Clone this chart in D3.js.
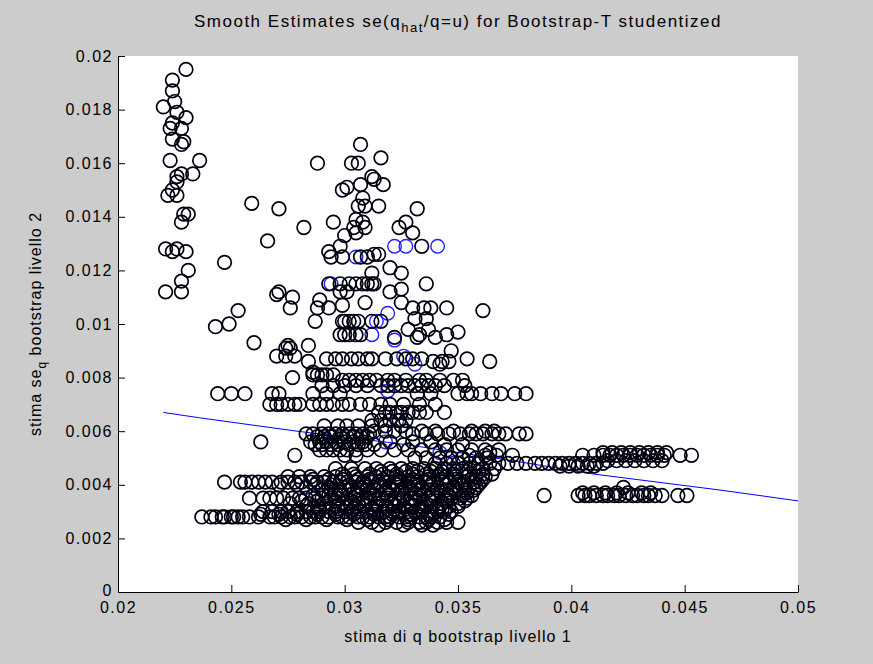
<!DOCTYPE html>
<html>
<head>
<meta charset="utf-8">
<script src="https://cdn.jsdelivr.net/npm/d3@7"></script>
<style>
  body { margin: 0; background: #cccccc; }
  svg { display: block; }
  text { font-family: "Liberation Sans", Arial, Helvetica, sans-serif; fill: #000; }
</style>
</head>
<body>
<div id="chart"></div>
<script>
// tick values
const xTicks = [0.02, 0.025, 0.03, 0.035, 0.04, 0.045, 0.05];
const yTicks = [0, 0.002, 0.004, 0.006, 0.008, 0.01, 0.012, 0.014, 0.016, 0.018, 0.02];

// smoothed estimate (blue line)
const smoothQ = [0.022, 0.0236, 0.0279, 0.0327, 0.0374, 0.041, 0.0466, 0.05];
const smoothSe = [0.0067, 0.0065, 0.0060, 0.0055, 0.0049, 0.0044, 0.0038, 0.0034];

// top-left cluster [q, se]
const leftCluster = [
  [0.0230,0.0195],[0.0224,0.0191],[0.0224,0.0187],[0.0225,0.0183],[0.0220,0.0181],[0.0226,0.0179],
  [0.0230,0.0177],[0.0224,0.0175],[0.0223,0.0173],[0.0228,0.0173],[0.0224,0.0169],[0.0229,0.0168],
  [0.0228,0.0167],[0.0223,0.0161],[0.0236,0.0161],[0.0228,0.0156],[0.0233,0.0156],[0.0226,0.0155],
  [0.0226,0.0153],[0.0224,0.0150],[0.0222,0.0148],[0.0226,0.0148],[0.0229,0.0141],[0.0231,0.0141],
  [0.0228,0.0138],[0.0221,0.0128],[0.0226,0.0128],[0.0224,0.0127],[0.0230,0.0127],[0.0231,0.0120],
  [0.0228,0.0116],[0.0221,0.0112],[0.0228,0.0112]
];

// isolated points
const scattered = [
  [0.0259,0.0145],[0.0271,0.0143],[0.0282,0.0136],[0.0288,0.0160],[0.0266,0.0131],[0.0247,0.0123],
  [0.0253,0.0105],[0.0249,0.0100],[0.0243,0.0099],[0.0260,0.0093],[0.0271,0.0112],[0.0270,0.0111],
  [0.0277,0.0110],[0.0276,0.0106],[0.0275,0.0092],[0.0270,0.0088],[0.0274,0.0088],[0.0278,0.0088],
  [0.0284,0.0092],[0.0284,0.0086],[0.0277,0.0080],[0.0286,0.0082],[0.0263,0.0056],[0.0244,0.0074],
  [0.0250,0.0074],[0.0256,0.0074],[0.0278,0.0051],[0.0388,0.0036],[0.0368,0.0059],[0.0377,0.0059],
  [0.0364,0.0052],[0.0423,0.0039],[0.0344,0.0067]
];

// central column
const centralColumn = [
  [0.0307,0.0167],[0.0303,0.0160],[0.0306,0.0160],[0.0316,0.0162],[0.0312,0.0155],[0.0313,0.0154],
  [0.0317,0.0152],[0.0307,0.0152],[0.0301,0.0151],[0.0299,0.0150],[0.0308,0.0147],[0.0306,0.0144],
  [0.0309,0.0144],[0.0315,0.0144],[0.0332,0.0143],[0.0295,0.0138],[0.0305,0.0139],[0.0308,0.0138],
  [0.0304,0.0136],[0.0309,0.0136],[0.0324,0.0136],[0.0327,0.0138],[0.0330,0.0134],[0.0300,0.0133],
  [0.0305,0.0134],[0.0298,0.0129],[0.0334,0.0129],[0.0293,0.0127],[0.0294,0.0125],[0.0299,0.0125],
  [0.0307,0.0125],[0.0310,0.0125],[0.0313,0.0126],[0.0315,0.0126],[0.0320,0.0121],[0.0325,0.0119],
  [0.0312,0.0119],[0.0336,0.0115],[0.0293,0.0115],[0.0298,0.0115],[0.0302,0.0115],[0.0305,0.0115],
  [0.0308,0.0115],[0.0310,0.0115],[0.0312,0.0115],[0.0313,0.0115],[0.0320,0.0112],[0.0325,0.0113],
  [0.0298,0.0112],[0.0301,0.0112],[0.0289,0.0109],[0.0309,0.0108],[0.0299,0.0107],[0.0325,0.0108],
  [0.0288,0.0106],[0.0293,0.0106],[0.0330,0.0106],[0.0335,0.0106],[0.0338,0.0106],[0.0345,0.0106],
  [0.0361,0.0105],[0.0287,0.0101],[0.0299,0.0101],[0.0300,0.0101],[0.0302,0.0101],[0.0304,0.0101],
  [0.0306,0.0101],[0.0312,0.0101],[0.0316,0.0101],[0.0350,0.0097],[0.0328,0.0098],[0.0336,0.0102],
  [0.0337,0.0098],[0.0331,0.0102],[0.0298,0.0096],[0.0300,0.0096],[0.0302,0.0096],[0.0305,0.0096],
  [0.0307,0.0096],[0.0322,0.0095],[0.0332,0.0095],[0.0345,0.0096],[0.0333,0.0096],[0.0340,0.0095],
  [0.0347,0.0090],[0.0354,0.0087],[0.0274,0.0091],[0.0276,0.0091],[0.0292,0.0087],[0.0296,0.0087],
  [0.0299,0.0087],[0.0303,0.0087],[0.0306,0.0087],[0.0310,0.0087],[0.0312,0.0087],[0.0318,0.0087],
  [0.0323,0.0087],[0.0327,0.0087],[0.0330,0.0087],[0.0334,0.0087],[0.0339,0.0086],[0.0343,0.0086],
  [0.0342,0.0085],[0.0346,0.0086],[0.0364,0.0086]
];

// horizontal bands: [se, [q values]]
const bandRows = [
  [0.0081, [0.0286,0.0288,0.0290,0.0292,0.0295]],
  [0.0079, [0.0299,0.0302,0.0305,0.0308,0.0311,0.0314,0.0319,0.0322,0.0327,0.0333,0.0336,0.0342,0.0348,0.0352]],
  [0.0077, [0.0290,0.0295,0.0300,0.0305,0.0310,0.0316,0.0319,0.0322,0.0325,0.0328,0.0331,0.0334,0.0337,0.0340,0.0344,0.0353]],
  [0.0074, [0.0268,0.0271,0.0286,0.0292,0.0298,0.0332,0.0338,0.0350,0.0354,0.0356,0.0360,0.0365,0.0369,0.0375,0.0380]],
  [0.0070, [0.0267,0.0270,0.0272,0.0275,0.0278,0.0280,0.0286,0.0289,0.0292,0.0295,0.0299,0.0302,0.0307,0.0311,0.0316,0.0320,0.0326,0.0333,0.0340]],
  [0.0067, [0.0315,0.0318,0.0320,0.0323,0.0325,0.0328,0.0330,0.0333,0.0336]],
  [0.0064, [0.0312,0.0316,0.0320,0.0324,0.0327]],
  [0.0062, [0.0291,0.0297,0.0301,0.0306,0.0312,0.0318,0.0325]],
  [0.0060, [0.0313,0.0318,0.0322,0.0327,0.0334,0.0340,0.0348,0.0356,0.0362,0.0366]],
  [0.0059, [0.0283,0.0286,0.0290,0.0293,0.0296,0.0299,0.0302,0.0305,0.0308,0.0311,0.0330,0.0336,0.0341,0.0346,0.0351,0.0355,0.0358,0.0361,0.0365,0.0371,0.0380]],
  [0.0058, [0.0288,0.0291,0.0294,0.0298,0.0301,0.0304,0.0307,0.0310]],
  [0.0056, [0.0285,0.0289,0.0292,0.0296,0.0300,0.0304,0.0308,0.0320,0.0330,0.0338]],
  [0.0055, [0.0287,0.0290,0.0294,0.0297,0.0302,0.0306,0.0309,0.0313,0.0326,0.0344,0.0352]],
  [0.0053, [0.0289,0.0292,0.0295,0.0298,0.0301,0.0305,0.0310,0.0316,0.0322,0.0328,0.0334,0.0340,0.0345,0.0350,0.0356,0.0362,0.0368]],
  [0.0052, [0.0414,0.0418,0.0422,0.0426,0.0430,0.0434,0.0438,0.0442]],
  [0.0051, [0.0300,0.0305,0.0355,0.0362,0.0367,0.0374,0.0405,0.0410,0.0414,0.0417,0.0420,0.0423,0.0426,0.0429,0.0432,0.0435,0.0438,0.0441,0.0448,0.0453]],
  [0.0050, [0.0331,0.0336,0.0342,0.0347,0.0352,0.0358,0.0363]],
  [0.0049, [0.0416,0.0420,0.0424,0.0428,0.0432,0.0436,0.0440]],
  [0.0048, [0.0340,0.0345,0.0350,0.0355,0.0359,0.0364,0.0368,0.0372,0.0376,0.0380,0.0384,0.0387,0.0390,0.0393,0.0396,0.0399,0.0402,0.0405,0.0408,0.0411,0.0414]],
  [0.0047, [0.0395,0.0399,0.0403,0.0407,0.0410]],
  [0.0046, [0.0296,0.0303,0.0309,0.0314,0.0320,0.0325,0.0330,0.0335,0.0340,0.0344,0.0348,0.0352,0.0357,0.0361,0.0366]],
  [0.0045, [0.0316,0.0321,0.0327,0.0332,0.0338,0.0343,0.0349,0.0354,0.0359]],
  [0.0044, [0.0299,0.0304,0.0311,0.0317,0.0323,0.0330,0.0336,0.0342,0.0348,0.0355,0.0361,0.0365]],
  [0.0043, [0.0275,0.0280,0.0285,0.0291,0.0296,0.0300,0.0305,0.0310,0.0314,0.0319,0.0323,0.0328,0.0332,0.0337,0.0341,0.0345,0.0349,0.0354,0.0358,0.0362]],
  [0.0042, [0.0286,0.0293,0.0299,0.0306,0.0311,0.0317,0.0324,0.0330,0.0337,0.0343,0.0349,0.0356,0.0361]],
  [0.0041, [0.0247,0.0254,0.0256,0.0259,0.0262,0.0265,0.0268,0.0272,0.0275,0.0278,0.0281,0.0285,0.0288,0.0291,0.0295,0.0298,0.0301,0.0305,0.0308,0.0312,0.0315,0.0318,0.0322,0.0325,0.0329,0.0332,0.0336,0.0339,0.0343,0.0346,0.0350,0.0353,0.0357,0.0360]],
  [0.0040, [0.0271,0.0279,0.0287,0.0294,0.0302,0.0309,0.0316,0.0323,0.0331,0.0338,0.0345,0.0352,0.0359]],
  [0.0039, [0.0293,0.0300,0.0307,0.0313,0.0320,0.0327,0.0334,0.0341,0.0348,0.0355,0.0358]],
  [0.0038, [0.0290,0.0294,0.0298,0.0302,0.0306,0.0310,0.0314,0.0318,0.0321,0.0325,0.0329,0.0333,0.0337,0.0341,0.0345,0.0349,0.0353,0.0357]],
  [0.0037, [0.0296,0.0304,0.0311,0.0318,0.0324,0.0331,0.0339,0.0347,0.0354,
            0.0405,0.0410,0.0415,0.0420,0.0425,0.0431,0.0435]],
  [0.0036, [0.0286,0.0293,0.0299,0.0306,0.0313,0.0319,0.0326,0.0333,0.0339,0.0346,0.0352,0.0356,
            0.0403,0.0406,0.0408,0.0411,0.0414,0.0416,0.0419,0.0421,0.0424,0.0427,0.0429,0.0432,0.0434,0.0437,0.0440,0.0447,0.0451]],
  [0.0035, [0.0258,0.0264,0.0267,0.0270,0.0273,0.0277,0.0280,0.0283,0.0287,0.0290,0.0294,0.0297,0.0301,0.0304,0.0308,0.0311,0.0315,0.0319,0.0322,0.0326,0.0329,0.0333,0.0337,0.0340,0.0344,0.0347,0.0351,0.0354]],
  [0.0034, [0.0281,0.0288,0.0296,0.0303,0.0310,0.0317,0.0324,0.0331,0.0338,0.0345,0.0353]],
  [0.0033, [0.0276,0.0284,0.0291,0.0299,0.0306,0.0314,0.0321,0.0329,0.0336,0.0343,0.0350]],
  [0.0032, [0.0283,0.0288,0.0292,0.0297,0.0301,0.0305,0.0309,0.0314,0.0318,0.0322,0.0326,0.0330,0.0334,0.0338,0.0342,0.0346,0.0350]],
  [0.0031, [0.0289,0.0297,0.0304,0.0312,0.0319,0.0327,0.0335,0.0343]],
  [0.0030, [0.0264,0.0268,0.0272,0.0275,0.0279,0.0283,0.0286,0.0289,0.0293,0.0296,0.0300,0.0303,0.0307,0.0310,0.0313,0.0317,0.0321,0.0324,0.0328,0.0331,0.0334,0.0338,0.0341,0.0344,0.0347]],
  [0.0029, [0.0263,0.0271,0.0279,0.0288,0.0296,0.0304,0.0313,0.0321,0.0329,0.0337,0.0346]],
  [0.0028, [0.0237,0.0241,0.0243,0.0246,0.0247,0.0250,0.0251,0.0253,0.0255,0.0258,0.0262,0.0267,0.0269,0.0272,0.0276,0.0278,0.0281,0.0285,0.0287,0.0290,0.0293,0.0297,0.0299,0.0302,0.0306,0.0308,0.0311,0.0315,0.0318,0.0320,0.0324,0.0327,0.0329,0.0333,0.0336,0.0338,0.0342]],
  [0.0027, [0.0274,0.0283,0.0292,0.0301,0.0310,0.0319,0.0328,0.0337,0.0344]],
  [0.0026, [0.0306,0.0312,0.0318,0.0323,0.0328,0.0333,0.0336,0.0341,0.0345,0.0350]],
  [0.0025, [0.0315,0.0326,0.0334,0.0339]]
];

// points drawn in blue
const bluePoints = [
  [0.0322,0.0129],[0.0327,0.0129],[0.0341,0.0129],[0.0305,0.0125],[0.0294,0.0115],[0.0319,0.0104],
  [0.0314,0.0101],[0.0312,0.0096],[0.0322,0.0094],[0.0326,0.0088],[0.0331,0.0085],[0.0319,0.0075],
  [0.0323,0.0064],[0.0295,0.0058],[0.0318,0.0056],[0.0342,0.0052],[0.0348,0.0048],[0.0308,0.0041],
  [0.0283,0.0039]
];

const W = 873, H = 664;
const plot = { left: 118, right: 798, top: 56, bottom: 592 };

const blackPoints = leftCluster.concat(scattered, centralColumn);
bandRows.forEach(([se, qs]) => qs.forEach(q => blackPoints.push([q, se])));

const svg = d3.select('#chart').append('svg')
  .attr('width', W).attr('height', H);

svg.append('rect').attr('width', W).attr('height', H).attr('fill', '#cccccc');
svg.append('rect')
  .attr('x', plot.left).attr('y', plot.top)
  .attr('width', plot.right - plot.left).attr('height', plot.bottom - plot.top)
  .attr('fill', '#fff');

const x = d3.scaleLinear().domain([0.02, 0.05]).range([plot.left, plot.right]);
const y = d3.scaleLinear().domain([0, 0.02]).range([plot.bottom, plot.top]);
const fmt = v => String(+v.toFixed(4));

// smoothed line under the markers
svg.append('path')
  .datum(smoothQ.map((q, i) => [q, smoothSe[i]]))
  .attr('fill', 'none')
  .attr('stroke', '#0000ff')
  .attr('stroke-width', 1)
  .attr('d', d3.line().x(d => x(d[0])).y(d => y(d[1])));

svg.append('g').selectAll('circle')
  .data(bluePoints)
  .join('circle')
  .attr('cx', d => x(d[0])).attr('cy', d => y(d[1]))
  .attr('r', 6.8)
  .attr('fill', 'none')
  .attr('stroke', '#2020ff')
  .attr('stroke-width', 1.4);

svg.append('g').selectAll('circle')
  .data(blackPoints)
  .join('circle')
  .attr('cx', d => x(d[0])).attr('cy', d => y(d[1]))
  .attr('r', 6.8)
  .attr('fill', 'none')
  .attr('stroke', '#000010')
  .attr('stroke-width', 1.7);

// axes (MATLAB style: ticks pointing inward, no box)
const xAxis = svg.append('g')
  .attr('transform', `translate(0,${plot.bottom})`)
  .call(d3.axisBottom(x).tickValues(xTicks).tickFormat(fmt)
    .tickSizeInner(-7).tickSizeOuter(0).tickPadding(10));
const yAxis = svg.append('g')
  .attr('transform', `translate(${plot.left},0)`)
  .call(d3.axisLeft(y).tickValues(yTicks).tickFormat(fmt)
    .tickSizeInner(-7).tickSizeOuter(0).tickPadding(5));

[xAxis, yAxis].forEach(g => {
  g.selectAll('path, line').attr('stroke', '#000').attr('stroke-width', 1);
  g.selectAll('text').attr('font-size', 16).attr('letter-spacing', 1.5)
    .attr('font-family', '"Liberation Sans", Arial, sans-serif').attr('fill', '#000');
});
xAxis.selectAll('.tick').filter(d => d === 0.02).select('line').remove();
yAxis.selectAll('.tick').filter(d => d === 0).select('line').remove();
yAxis.selectAll('.tick').filter(d => d === 0).select('text').attr('dy', '0.2em');

// title
const title = svg.append('text')
  .attr('x', (plot.left + plot.right) / 2).attr('y', 27)
  .attr('text-anchor', 'middle').attr('font-size', 17).attr('letter-spacing', 1.5);
title.append('tspan').text('Smooth Estimates se(q');
title.append('tspan').attr('dy', 5).attr('font-size', 13).text('hat');
title.append('tspan').attr('dy', -5).text('/q=u) for Bootstrap-T studentized');

// x label
svg.append('text')
  .attr('x', (plot.left + plot.right) / 2).attr('y', 642)
  .attr('text-anchor', 'middle').attr('font-size', 16).attr('letter-spacing', 1)
  .text('stima di q bootstrap livello 1');

// y label
const yl = svg.append('text')
  .attr('transform', `translate(41,${(plot.top + plot.bottom) / 2}) rotate(-90)`)
  .attr('text-anchor', 'middle').attr('font-size', 16).attr('letter-spacing', 1);
yl.append('tspan').text('stima se');
yl.append('tspan').attr('dy', 5).attr('font-size', 12).text('q');
yl.append('tspan').attr('dy', -5).text(' bootstrap livello 2');
</script>
</body>
</html>
